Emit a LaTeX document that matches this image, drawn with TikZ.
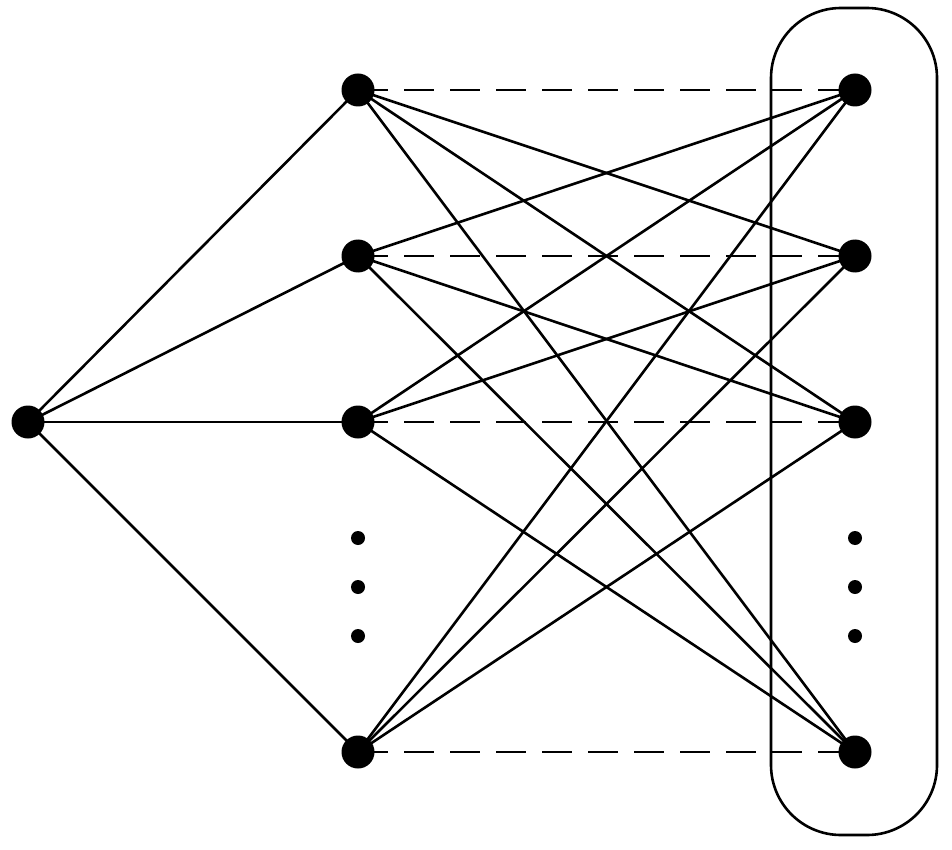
\documentclass[tikz,border=0pt]{standalone}
\begin{document}
\begin{tikzpicture}[x=1pt,y=-1pt,
  dot/.style={circle,fill=black,inner sep=0pt,minimum size=33pt},
  sdot/.style={circle,fill=black,inner sep=0pt,minimum size=14pt},
  edge/.style={line width=2.6pt},
  dedge/.style={line width=2.6pt,dash pattern=on 30pt off 16pt}]
\useasboundingbox (0,0) rectangle (952,850);
\draw[line width=2.6pt,rounded corners=70pt] (771,8) rectangle (937,835);
\node[dot] (L) at (28,422) {};
\foreach \i/\y in {1/90,2/256,3/422,5/752}{
  \node[dot] (m\i) at (358,\y) {};
  \node[dot] (r\i) at (855,\y) {};
}
\foreach \y [count=\k] in {538,587,636}{
  \node[sdot] (md\k) at (358,\y) {};
  \node[sdot] (rd\k) at (855,\y) {};
}
\foreach \i in {1,2,3,5}{
  \draw[edge] (L.center) -- (m\i.center);
  \foreach \j in {1,2,3,5}{
    \ifnum\i=\j
      \draw[dedge] (m\i.center) -- (r\j.center);
    \else
      \draw[edge] (m\i.center) -- (r\j.center);
    \fi
  }
}
\end{tikzpicture}
\end{document}
